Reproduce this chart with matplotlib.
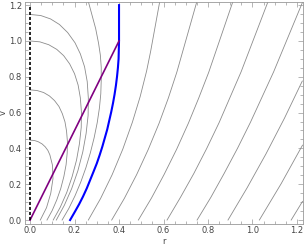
import matplotlib

matplotlib.use("Agg")
import matplotlib.pyplot as plt
from matplotlib.ticker import MultipleLocator

# outgoing light rays (r, v); the first five fall back to r = 0
RAY1_R = [0.046, 0.074, 0.093, 0.103, 0.101, 0.089, 0.080, 0.068, 0.054, 0.037, 0.020, 0.000]
RAY1_V = [0.000, 0.069, 0.149, 0.231, 0.305, 0.364, 0.389, 0.409, 0.425, 0.437, 0.444, 0.446]
RAY2_R = [0.076, 0.099, 0.120, 0.138, 0.152, 0.162, 0.167, 0.168, 0.164, 0.157, 0.145, 0.130,
          0.110, 0.087, 0.061, 0.032, 0.000]
RAY2_V = [0.000, 0.052, 0.112, 0.176, 0.243, 0.309, 0.376, 0.438, 0.497, 0.548, 0.594, 0.634,
          0.667, 0.693, 0.712, 0.723, 0.727]
RAY3_R = [0.104, 0.136, 0.165, 0.189, 0.209, 0.222, 0.230, 0.231, 0.226, 0.216, 0.200, 0.178,
          0.151, 0.120, 0.084, 0.044, 0.000]
RAY3_V = [0.000, 0.072, 0.154, 0.242, 0.335, 0.426, 0.517, 0.602, 0.683, 0.754, 0.817, 0.872,
          0.918, 0.953, 0.979, 0.995, 1.000]
RAY4_R = [0.118, 0.154, 0.187, 0.215, 0.237, 0.252, 0.261, 0.262, 0.257, 0.245, 0.226, 0.202,
          0.169, 0.132, 0.092, 0.048, 0.000]
RAY4_V = [0.000, 0.082, 0.175, 0.275, 0.380, 0.483, 0.584, 0.681, 0.773, 0.856, 0.928, 0.990,
          1.047, 1.092, 1.123, 1.142, 1.148]
RAY5_R = [0.144, 0.174, 0.202, 0.228, 0.251, 0.271, 0.288, 0.302, 0.312, 0.318, 0.320, 0.320,
          0.316, 0.308, 0.295, 0.262]
RAY5_V = [0.000, 0.064, 0.135, 0.212, 0.292, 0.375, 0.459, 0.544, 0.627, 0.705, 0.780, 0.853,
          0.921, 0.987, 1.069, 1.220]
# rays outside the horizon escape
RAY6_R = [0.262, 0.317, 0.369, 0.417, 0.460, 0.495, 0.524, 0.542, 0.583]
RAY6_V = [0.000, 0.120, 0.253, 0.396, 0.546, 0.689, 0.832, 0.941, 1.220]
RAY7_R = [0.367, 0.424, 0.479, 0.531, 0.580, 0.622, 0.660, 0.750]
RAY7_V = [0.000, 0.121, 0.253, 0.393, 0.540, 0.682, 0.826, 1.220]
RAY8_R = [0.487, 0.546, 0.603, 0.659, 0.712, 0.758, 0.803, 0.912]
RAY8_V = [0.000, 0.123, 0.255, 0.395, 0.541, 0.680, 0.824, 1.220]
RAY9_R = [0.616, 0.676, 0.736, 0.794, 0.850, 0.949, 1.070]
RAY9_V = [0.000, 0.126, 0.259, 0.399, 0.544, 0.828, 1.220]
RAY10_R = [0.751, 0.813, 0.873, 0.933, 0.991, 1.095, 1.225]
RAY10_V = [0.000, 0.127, 0.261, 0.401, 0.546, 0.827, 1.216]
RAY11_R = [0.890, 0.976, 1.061, 1.144, 1.224]
RAY11_V = [0.000, 0.180, 0.370, 0.569, 0.776]
RAY12_R = [1.031, 1.129, 1.225]
RAY12_V = [0.000, 0.203, 0.418]
RAY13_R = [1.174, 1.225]
RAY13_V = [0.000, 0.104]

# event horizon (blue), apparent horizon (purple), centre r = 0 (dashed)
HORIZON_R = [0.180, 0.200, 0.220, 0.238, 0.255, 0.270, 0.285, 0.300, 0.313, 0.325, 0.336,
             0.347, 0.356, 0.365, 0.373, 0.380, 0.386, 0.391, 0.395, 0.398, 0.399, 0.400, 0.400]
HORIZON_V = [0.000, 0.043, 0.087, 0.131, 0.177, 0.223, 0.269, 0.316, 0.363, 0.410, 0.458,
             0.506, 0.555, 0.604, 0.653, 0.702, 0.751, 0.801, 0.850, 0.900, 0.950, 1.000, 1.200]
APPARENT_R = [0.0, 0.4]
APPARENT_V = [0.0, 1.0]
CENTRE_R = [0.0, 0.0]
CENTRE_V = [0.0, 1.2]

RAYS = [
    (RAY1_R, RAY1_V), (RAY2_R, RAY2_V), (RAY3_R, RAY3_V), (RAY4_R, RAY4_V),
    (RAY5_R, RAY5_V), (RAY6_R, RAY6_V), (RAY7_R, RAY7_V), (RAY8_R, RAY8_V),
    (RAY9_R, RAY9_V), (RAY10_R, RAY10_V), (RAY11_R, RAY11_V), (RAY12_R, RAY12_V),
    (RAY13_R, RAY13_V),
]

plt.rcParams["lines.scale_dashes"] = False

fig = plt.figure(figsize=(3.04, 2.47), dpi=100)
ax = fig.add_axes([0.0806, 0.0947, 0.9145, 0.899])

for r, v in RAYS:
    ax.plot(r, v, color="#8c8c8c", lw=0.6)

ax.plot(HORIZON_R, HORIZON_V, color=(0, 0, 1), lw=1.5, zorder=4)
ax.plot(APPARENT_R, APPARENT_V, color=(0.5, 0, 0.5), lw=1.2, zorder=5)
ax.plot(CENTRE_R, CENTRE_V, color="black", lw=1.2, dashes=(2.2, 1.4), zorder=6)

ax.set_xlim(-0.025, 1.225)
ax.set_ylim(-0.02, 1.22)
ax.xaxis.set_major_locator(MultipleLocator(0.2))
ax.yaxis.set_major_locator(MultipleLocator(0.2))
ax.xaxis.set_minor_locator(MultipleLocator(0.05))
ax.yaxis.set_minor_locator(MultipleLocator(0.05))
ax.tick_params(which="both", direction="in", top=True, right=True,
               color="#999999", labelsize=6, labelcolor="#444444", pad=2)
ax.tick_params(which="major", length=3.5, width=0.5)
ax.tick_params(which="minor", length=2, width=0.5)
for s in ax.spines.values():
    s.set_color("#999999")
    s.set_linewidth(0.6)

ax.set_xlabel("r", fontsize=6, color="#444444", labelpad=1.5)
ax.set_ylabel("v", fontsize=6, color="#444444")
ax.yaxis.set_label_coords(-0.06, 0.5)

fig.savefig("out.png", dpi=100)
